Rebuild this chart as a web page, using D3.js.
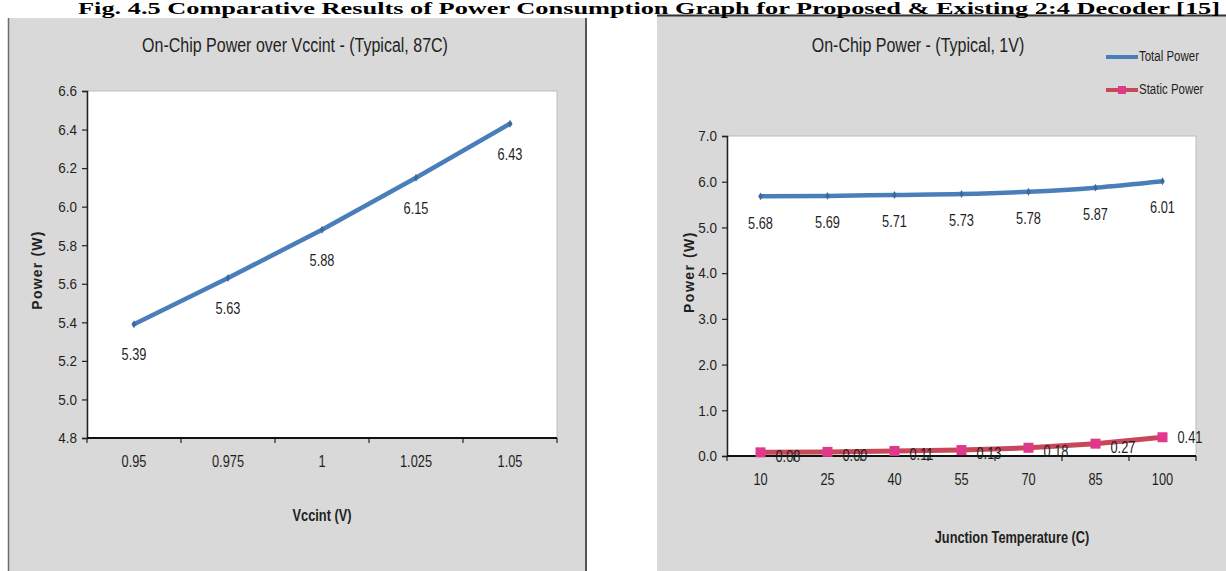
<!DOCTYPE html>
<html>
<head>
<meta charset="utf-8">
<script src="https://cdn.jsdelivr.net/npm/d3@7"></script>
<style>
  html, body { margin: 0; padding: 0; background: #ffffff; }
  svg { display: block; }
</style>
</head>
<body>
<svg id="fig" width="1226" height="571"></svg>
<script>
// ---- data ----
const vccintCats = ["0.95", "0.975", "1", "1.025", "1.05"];
const vccintPower = [5.39, 5.63, 5.88, 6.15, 6.43];
const vccintTicks = [4.8, 5.0, 5.2, 5.4, 5.6, 5.8, 6.0, 6.2, 6.4, 6.6];

const tempCats = ["10", "25", "40", "55", "70", "85", "100"];
const totalPower = [5.68, 5.69, 5.71, 5.73, 5.78, 5.87, 6.01];
const staticPower = [0.08, 0.09, 0.11, 0.13, 0.18, 0.27, 0.41];
const tempTicks = [0, 1, 2, 3, 4, 5, 6, 7];

const seriesNames = ["Total Power", "Static Power"];

// condensed look: Liberation Sans squeezed horizontally
const SANS = "'Liberation Sans', Arial, sans-serif";
const BLUE = "#4a7ebb";
const RED = "#c8485a";
const PINK = "#e0388c";
const TXT = "#1f1f1f";

const svg = d3.select("#fig");

// ---- panel backgrounds ----
svg.append("rect").attr("x", 8).attr("y", 18).attr("width", 578).attr("height", 560)
  .attr("fill", "#d9d9d9");
svg.append("line").attr("x1", 8.5).attr("x2", 8.5).attr("y1", 18).attr("y2", 571)
  .attr("stroke", "#6e6e6e").attr("stroke-width", 1.5);
svg.append("line").attr("x1", 586).attr("x2", 586).attr("y1", 18).attr("y2", 571)
  .attr("stroke", "#555").attr("stroke-width", 2);

svg.append("rect").attr("x", 657).attr("y", 15).attr("width", 569).attr("height", 556)
  .attr("fill", "#d9d9d9");
svg.append("line").attr("x1", 657).attr("x2", 1226).attr("y1", 15.5).attr("y2", 15.5)
  .attr("stroke", "#333").attr("stroke-width", 2);

// ---- figure caption ----
svg.append("text")
  .attr("x", 78).attr("y", 14)
  .attr("font-family", "'Liberation Serif', 'Times New Roman', serif")
  .attr("font-weight", "bold").attr("font-size", 16)
  .attr("textLength", 1142).attr("lengthAdjust", "spacingAndGlyphs")
  .attr("fill", "#000")
  .text("Fig. 4.5 Comparative Results of Power Consumption Graph for Proposed & Existing 2:4 Decoder [15]");

function txt(g, x, y, s, opts) {
  const sx = opts.sx == null ? 0.82 : opts.sx;
  const rot = opts.rotate ? " rotate(-90)" : "";
  const t = g.append("text").attr("x", 0).attr("y", 0).text(s)
    .attr("transform", `translate(${x},${y})${rot} scale(${sx},1)`)
    .attr("font-family", opts.family || SANS)
    .attr("font-size", opts.size || 14)
    .attr("fill", opts.fill || TXT)
    .attr("text-anchor", opts.anchor || "middle")
    .attr("dominant-baseline", "middle");
  if (opts.weight) t.attr("font-weight", opts.weight);
  if (opts.ls) t.attr("letter-spacing", opts.ls);
  return t;
}

// Excel-style category axis: ticks on band edges, labels at band centers
function categoryAxis(g, x, cats, y0) {
  const edges = d3.range(cats.length + 1).map(i => x.range()[0] + i * x.step());
  g.selectAll(".ctick").data(edges).join("line")
    .attr("x1", d => d).attr("x2", d => d)
    .attr("y1", y0).attr("y2", y0 + 5)
    .attr("stroke", "#222").attr("stroke-width", 1.2);
  g.append("line").attr("x1", x.range()[0]).attr("x2", x.range()[1])
    .attr("y1", y0).attr("y2", y0).attr("stroke", "#111").attr("stroke-width", 2);
  cats.forEach(c => txt(g, x(c) + x.bandwidth() / 2, y0 + 25, c, { size: 16, sx: 0.8 }));
}

function valueAxis(g, y, ticks, x0, fmt) {
  const ax = d3.axisLeft(y).tickValues(ticks).tickFormat(fmt).tickSize(5).tickPadding(6);
  const a = g.append("g").attr("transform", `translate(${x0},0)`).call(ax);
  a.select(".domain").attr("stroke", "#222").attr("stroke-width", 1.5);
  a.selectAll(".tick line").attr("stroke", "#222").attr("stroke-width", 1.2);
  const sx = 0.9;
  a.selectAll(".tick text")
    .attr("font-family", SANS).attr("font-size", 15).attr("fill", TXT)
    .attr("x", -10 / sx).attr("transform", `scale(${sx},1)`);
}

// ===================== left chart =====================
{
  const g = svg.append("g");
  const L = 87, R = 557, T = 91, B = 438;
  g.append("rect").attr("x", L).attr("y", T).attr("width", R - L).attr("height", B - T)
    .attr("fill", "#fff").attr("stroke", "#bdbdbd").attr("stroke-width", 1);

  const x = d3.scaleBand().domain(vccintCats).range([L, R]).padding(0);
  const y = d3.scaleLinear().domain([4.8, 6.6]).range([B, T]);

  valueAxis(g, y, vccintTicks, L, d3.format(".1f"));
  categoryAxis(g, x, vccintCats, B);

  const pts = vccintCats.map((c, i) => [x(c) + x.bandwidth() / 2, y(vccintPower[i]), vccintPower[i]]);
  g.append("path").datum(pts)
    .attr("d", d3.line().x(d => d[0]).y(d => d[1]))
    .attr("fill", "none").attr("stroke", BLUE).attr("stroke-width", 4.5)
    .attr("stroke-linecap", "round");
  g.selectAll(".mk").data(pts).join("path")
    .attr("transform", d => `translate(${d[0]},${d[1]})`)
    .attr("d", d3.symbol(d3.symbolDiamond, 18))
    .attr("fill", "#3d6a9e");
  pts.forEach(d => txt(g, d[0], d[1] + 32, d[2].toFixed(2), { size: 16, sx: 0.8 }));

  txt(g, 295, 47, "On-Chip Power over Vccint - (Typical, 87C)", { size: 20, sx: 0.8 });
  txt(g, 38, 270, "Power (W)", { weight: "bold", size: 14, ls: 1.2, sx: 1, rotate: true });
  txt(g, 322, 517, "Vccint (V)", { size: 16, weight: "bold", sx: 0.8 });
}

// ===================== right chart =====================
{
  const g = svg.append("g");
  const L = 727, R = 1196, T = 136, B = 456;
  g.append("rect").attr("x", L).attr("y", T).attr("width", R - L).attr("height", B - T)
    .attr("fill", "#fff").attr("stroke", "#bdbdbd").attr("stroke-width", 1);

  const x = d3.scaleBand().domain(tempCats).range([L, R]).padding(0);
  const y = d3.scaleLinear().domain([0, 7]).range([B, T]);

  valueAxis(g, y, tempTicks, L, d3.format(".1f"));
  categoryAxis(g, x, tempCats, B);

  const cx = c => x(c) + x.bandwidth() / 2;
  const tot = tempCats.map((c, i) => [cx(c), y(totalPower[i]), totalPower[i]]);
  const sta = tempCats.map((c, i) => [cx(c), y(staticPower[i]), staticPower[i]]);

  g.append("path").datum(tot)
    .attr("d", d3.line().x(d => d[0]).y(d => d[1]).curve(d3.curveMonotoneX))
    .attr("fill", "none").attr("stroke", BLUE).attr("stroke-width", 4.5);
  g.selectAll(".mkt").data(tot).join("path")
    .attr("transform", d => `translate(${d[0]},${d[1]})`)
    .attr("d", d3.symbol(d3.symbolDiamond, 18))
    .attr("fill", "#3d6a9e");
  tot.forEach(d => txt(g, d[0], d[1] + 28, d[2].toFixed(2), { size: 16, sx: 0.8 }));

  g.append("path").datum(sta)
    .attr("d", d3.line().x(d => d[0]).y(d => d[1]))
    .attr("fill", "none").attr("stroke", RED).attr("stroke-width", 5);
  g.selectAll(".mks").data(sta).join("rect")
    .attr("x", d => d[0] - 5).attr("y", d => d[1] - 5)
    .attr("width", 10).attr("height", 10).attr("fill", PINK);
  sta.forEach((d, i) => txt(g, d[0] + 15, d[1] + (i === sta.length - 1 ? 2 : 5), d[2].toFixed(2),
    { size: 16, sx: 0.8, anchor: "start" }));

  txt(g, 918, 47, "On-Chip Power - (Typical, 1V)", { size: 20, sx: 0.8 });
  txt(g, 690, 272, "Power (W)", { weight: "bold", size: 14, ls: 1.5, sx: 1, rotate: true });
  txt(g, 1012, 539, "Junction Temperature (C)", { size: 16, weight: "bold", sx: 0.8 });

  // legend
  const lg = g.append("g");
  seriesNames.forEach((name, i) => {
    const ly = 57 + i * 33;
    lg.append("line").attr("x1", 1106).attr("x2", 1138).attr("y1", ly).attr("y2", ly)
      .attr("stroke", i === 0 ? BLUE : RED).attr("stroke-width", 4);
    if (i === 1) {
      lg.append("rect").attr("x", 1118).attr("y", ly - 4).attr("width", 8).attr("height", 8)
        .attr("fill", PINK);
    }
    txt(lg, 1139, ly, name, { size: 14, sx: 0.82, anchor: "start" });
  });
}
</script>
</body>
</html>
